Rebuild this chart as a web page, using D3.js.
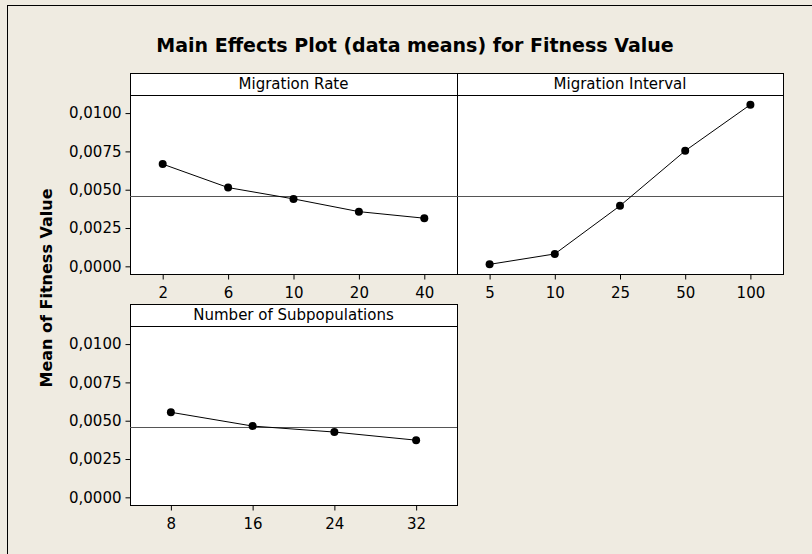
<!DOCTYPE html>
<html>
<head>
<meta charset="utf-8">
<script src="https://cdn.jsdelivr.net/npm/d3@7"></script>
<style>
  body { margin: 0; background: #efebe1; }
  svg text { font-family: "DejaVu Sans", Verdana, sans-serif; }
</style>
</head>
<body>
<svg id="chart"></svg>
<script>
const width = 812, height = 554;

// factor levels and data means
const rateLevels = ["2", "6", "10", "20", "40"];
const rateMeans = [0.00667, 0.00514, 0.00440, 0.00357, 0.00314];

const intervalLevels = ["5", "10", "25", "50", "100"];
const intervalMeans = [0.00013, 0.00081, 0.00395, 0.00754, 0.01055];

const subpopLevels = ["8", "16", "24", "32"];
const subpopMeans = [0.00555, 0.00465, 0.00426, 0.00373];

const grandMean = 0.00457;
const yTicks = [0, 0.0025, 0.005, 0.0075, 0.01];

const svg = d3.select("#chart")
  .attr("width", width)
  .attr("height", height);

svg.append("rect")
  .attr("width", width).attr("height", height)
  .attr("fill", "#efebe1");

// outer frame (only top/left edges show in the picture)
svg.append("rect")
  .attr("x", 7.5).attr("y", 5.5)
  .attr("width", 900).attr("height", 900)
  .attr("fill", "none").attr("stroke", "#000");

svg.append("text")
  .attr("x", 415).attr("y", 52)
  .attr("text-anchor", "middle")
  .style("font-size", "19px")
  .style("font-weight", "bold")
  .text("Main Effects Plot (data means) for Fitness Value");

svg.append("text")
  .attr("transform", "translate(52,288) rotate(-90)")
  .attr("text-anchor", "middle")
  .style("font-size", "16px")
  .style("font-weight", "bold")
  .text("Mean of Fitness Value");

const fmt = d => d3.format(".4f")(d).replace(".", ",");

const panels = [
  { name: "Migration Rate", levels: rateLevels, means: rateMeans, x0: 130, x1: 457, top: 73, yAxis: true },
  { name: "Migration Interval", levels: intervalLevels, means: intervalMeans, x0: 457, x1: 783, top: 73, yAxis: false },
  { name: "Number of Subpopulations", levels: subpopLevels, means: subpopMeans, x0: 130, x1: 457, top: 304, yAxis: true }
];

const stripH = 22, plotH = 179;

panels.forEach(p => {
  const g = svg.append("g");
  const plotTop = p.top + stripH, plotBottom = plotTop + plotH;

  const x = d3.scalePoint()
    .domain(p.levels)
    .range([p.x0, p.x1])
    .padding(0.5);

  const y = d3.scaleLinear()
    .domain([-0.0005, 0.01118])
    .range([plotBottom, plotTop]);

  // strip
  g.append("rect")
    .attr("x", p.x0 + 0.5).attr("y", p.top + 0.5)
    .attr("width", p.x1 - p.x0).attr("height", stripH)
    .attr("fill", "#fff").attr("stroke", "#000");
  g.append("text")
    .attr("x", (p.x0 + p.x1) / 2).attr("y", p.top + 16)
    .attr("text-anchor", "middle")
    .style("font-size", "15px")
    .text(p.name);

  // plot area
  g.append("rect")
    .attr("x", p.x0 + 0.5).attr("y", plotTop + 0.5)
    .attr("width", p.x1 - p.x0).attr("height", plotH)
    .attr("fill", "#fff").attr("stroke", "#000");

  // reference line at grand mean
  g.append("line")
    .attr("x1", p.x0).attr("x2", p.x1)
    .attr("y1", Math.round(y(grandMean)) + 0.5).attr("y2", Math.round(y(grandMean)) + 0.5)
    .attr("stroke", "#555").attr("stroke-width", 1);

  const pts = p.levels.map((l, i) => ({ level: l, value: p.means[i] }));

  g.append("path")
    .datum(pts)
    .attr("fill", "none")
    .attr("stroke", "#000")
    .attr("stroke-width", 1)
    .attr("d", d3.line().x(d => x(d.level)).y(d => y(d.value)));

  g.selectAll("circle")
    .data(pts)
    .enter().append("circle")
    .attr("cx", d => x(d.level))
    .attr("cy", d => y(d.value))
    .attr("r", 4)
    .attr("fill", "#000");

  // x axis
  const xa = g.append("g")
    .attr("transform", `translate(0,${plotBottom + 0.5})`)
    .call(d3.axisBottom(x).tickSize(5).tickPadding(8));
  xa.select(".domain").remove();
  xa.selectAll("text").style("font-size", "15px").attr("fill", "#000").style("font-family", "DejaVu Sans");

  if (p.yAxis) {
    const ya = g.append("g")
      .attr("transform", `translate(${p.x0 + 0.5},0)`)
      .call(d3.axisLeft(y).tickValues(yTicks).tickFormat(fmt).tickSize(5).tickPadding(4));
    ya.select(".domain").remove();
    ya.selectAll("text").style("font-size", "15px").attr("fill", "#000").style("font-family", "DejaVu Sans");
  }
});
</script>
</body>
</html>
